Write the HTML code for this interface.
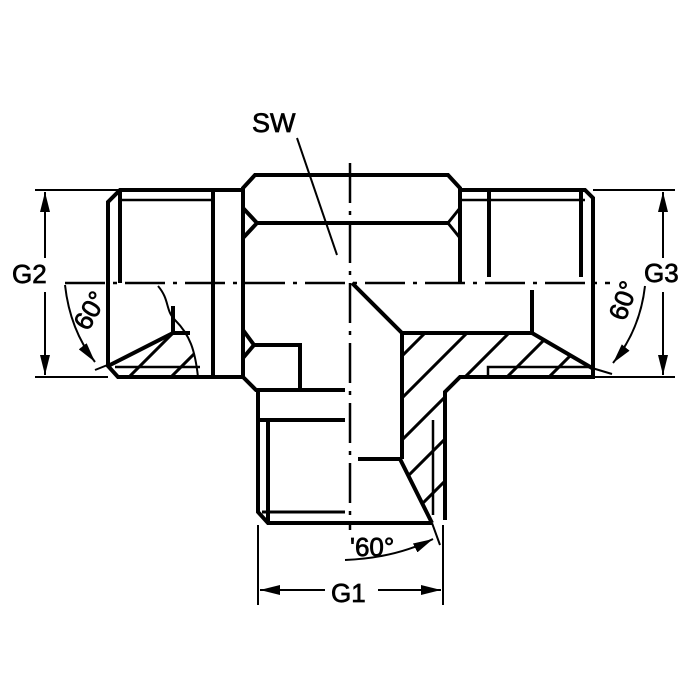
<!DOCTYPE html>
<html><head><meta charset="utf-8"><style>html,body{margin:0;padding:0;background:#fff}svg{display:block}text{font-family:"Liberation Sans",Arial,sans-serif;fill:#000;stroke:#000;stroke-width:0.7}</style></head><body>
<svg width="700" height="700" viewBox="0 0 700 700" xmlns="http://www.w3.org/2000/svg">
<defs>
<pattern id="h" patternUnits="userSpaceOnUse" x="2" y="0" width="42" height="42">
<path d="M0,42 L42,0 M-6,6 L6,-6 M36,48 L48,36" stroke="#000" stroke-width="3"/>
</pattern>
<marker id="ab" viewBox="0 0 20 10" markerWidth="20" markerHeight="10" refX="20" refY="5" orient="auto" markerUnits="userSpaceOnUse"><path d="M0,0 L20,5 L0,10z"/></marker>
</defs>
<path d="M402,333 L532,333 L592,368 L592,377 L460,377 L445,392 L445,520 L432,523 L400,459 Z" fill="url(#h)"/>
<path d="M108,365 L173,333 L190,333 L200,377 L118,377 Z" fill="url(#h)"/>
<g fill="none" stroke="#000" stroke-width="4" stroke-linejoin="miter">
<path d="M213,190 L120,190 L108,202 L108,366 L118,377 L243,377"/>
<line x1="120" y1="190" x2="120" y2="283"/>
<line x1="213" y1="190" x2="213" y2="377"/>
<line x1="120" y1="200" x2="213" y2="200" stroke-width="2.5"/>
<line x1="115" y1="367" x2="200" y2="367" stroke-width="2.5"/>
<path d="M108,366 L173,333 L190,333" />
<line x1="173" y1="306" x2="173" y2="333"/>
<path d="M158,286 C170,300 165,310 175,320 C190,335 195,350 198,377" stroke-width="2"/>
<path d="M213,190 L243,190 L243,188 L255,175 L448,175 L460,188 L460,283"/>
<line x1="243" y1="188" x2="243" y2="377"/>
<path d="M243,208 L257,223 L243,238"/>
<line x1="257" y1="223" x2="448" y2="223"/>
<path d="M460,208 L448,223 L460,238" stroke-width="3"/>
<path d="M243,330 L254,345 L243,358"/>
<path d="M254,345 L300,345 L300,390"/>
<path d="M243,377 L256,390 L345,390"/>
<path d="M460,190 L585,190 L593,198 L593,377 L460,377 L445,392 L445,520"/>
<line x1="460" y1="200" x2="585" y2="200" stroke-width="2.5"/>
<line x1="489" y1="190" x2="489" y2="277"/>
<line x1="581" y1="190" x2="581" y2="277"/>
<line x1="532" y1="290" x2="532" y2="333"/>
<path d="M352,283 L402,333 L532,333 L592,368"/>
<line x1="402" y1="333" x2="402" y2="459"/>
<path d="M488,377 L488,367 L590,367" stroke-width="2.5"/>
<path d="M258,390 L258,512 L268,523 L432,523"/>
<line x1="258" y1="420" x2="345" y2="420"/>
<line x1="268" y1="420" x2="268" y2="523"/>
<line x1="262" y1="512" x2="345" y2="512" stroke-width="3"/>
<path d="M358,459 L400,459 L432,523"/>
<path d="M433,420 L433,515" stroke-width="2.5"/>
</g>
<g stroke="#000" stroke-width="2" fill="none">
<line x1="65" y1="283" x2="610" y2="283" stroke-dasharray="40,8,4,8" stroke-width="2.5"/>
<line x1="350" y1="163" x2="350" y2="530" stroke-dasharray="40,8,4,8" stroke-width="2.5"/>
<line x1="297" y1="138" x2="337" y2="255"/>
<line x1="35" y1="190" x2="120" y2="190"/>
<line x1="35" y1="377" x2="108" y2="377"/>
<line x1="593" y1="190" x2="675" y2="190"/>
<line x1="593" y1="377" x2="675" y2="377"/>
<line x1="258" y1="525" x2="258" y2="605"/>
<line x1="443" y1="525" x2="443" y2="605"/>
<line x1="45" y1="258" x2="45" y2="192" marker-end="url(#ab)"/>
<line x1="45" y1="292" x2="45" y2="375" marker-end="url(#ab)"/>
<line x1="663" y1="258" x2="663" y2="192" marker-end="url(#ab)"/>
<line x1="663" y1="292" x2="663" y2="375" marker-end="url(#ab)"/>
<line x1="325" y1="590" x2="260" y2="590" marker-end="url(#ab)"/>
<line x1="378" y1="590" x2="441" y2="590" marker-end="url(#ab)"/>
<path d="M65,285 Q70,330 95,362" marker-end="url(#ab)"/>
<line x1="95" y1="370" x2="110" y2="364"/>
<path d="M645,286 Q640,330 613,363" marker-end="url(#ab)"/>
<line x1="592" y1="368" x2="612" y2="374"/>
<path d="M345,560 Q395,558 433,539" marker-end="url(#ab)"/>
<line x1="432" y1="523" x2="440" y2="545"/>
</g>
<text x="252" y="132" font-size="27">SW</text>
<text x="12" y="283" font-size="26">G2</text>
<text x="644" y="282" font-size="26">G3</text>
<text x="331" y="602" font-size="26">G1</text>
<text x="350" y="556" font-size="26">'60°</text>
<text font-size="26" transform="translate(88,332) rotate(-60)">60°</text>
<text font-size="26" transform="translate(625,322) rotate(-70)">60°</text>
</svg>
</body></html>
